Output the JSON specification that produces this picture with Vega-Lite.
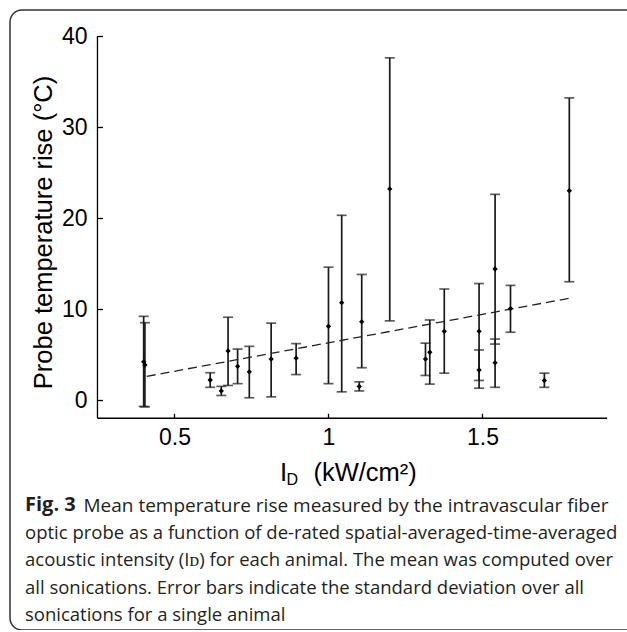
{
  "$schema": "https://vega.github.io/schema/vega-lite/v6.json",
  "width": 630,
  "height": 620,
  "autosize": {"type": "none"},
  "padding": {"left": 10, "top": 10, "right": 0, "bottom": 0},
  "background": "white",
  "config": {
    "view": {"stroke": "#333333", "strokeWidth": 1.5, "cornerRadius": 12},
    "font": "Liberation Sans"
  },
  "title": {
    "text": "Fig. 3",
    "subtitle": [
      "optic probe as a function of de-rated spatial-averaged-time-averaged",
      "acoustic intensity (I\u1d05) for each animal. The mean was computed over",
      "all sonications. Error bars indicate the standard deviation over all",
      "sonications for a single animal"
    ],
    "orient": "bottom",
    "anchor": "start",
    "frame": "group",
    "baseline": "top",
    "offset": -135,
    "dx": 15,
    "font": "Open Sans",
    "fontSize": 20,
    "fontWeight": "bold",
    "color": "#231f20",
    "subtitleFont": "Open Sans",
    "subtitleFontSize": 18.5,
    "subtitleFontWeight": "normal",
    "subtitleColor": "#231f20",
    "subtitleLineHeight": 27.5,
    "subtitlePadding": 8.7
  },
  "datasets": {
    "animals": [
      {"x": 0.400, "mean": 4.2, "lo": -0.7, "hi": 9.2},
      {"x": 0.404, "mean": 3.85, "lo": -0.75, "hi": 8.5},
      {"x": 0.616, "mean": 2.2, "lo": 1.4, "hi": 3.0},
      {"x": 0.652, "mean": 1.0, "lo": 0.5, "hi": 1.5},
      {"x": 0.674, "mean": 5.4, "lo": 1.6, "hi": 9.1},
      {"x": 0.705, "mean": 3.7, "lo": 1.8, "hi": 5.6},
      {"x": 0.743, "mean": 3.1, "lo": 0.25, "hi": 5.9},
      {"x": 0.814, "mean": 4.5, "lo": 0.35, "hi": 8.45},
      {"x": 0.895, "mean": 4.6, "lo": 2.8, "hi": 6.2},
      {"x": 1.0, "mean": 8.1, "lo": 1.8, "hi": 14.6},
      {"x": 1.043, "mean": 10.7, "lo": 0.9, "hi": 20.3},
      {"x": 1.108, "mean": 8.6, "lo": 3.55, "hi": 13.8},
      {"x": 1.100, "mean": 1.5, "lo": 1.0, "hi": 2.0},
      {"x": 1.199, "mean": 23.2, "lo": 8.7, "hi": 37.6},
      {"x": 1.315, "mean": 4.5, "lo": 2.7, "hi": 6.25},
      {"x": 1.329, "mean": 5.25, "lo": 1.75, "hi": 8.8},
      {"x": 1.376, "mean": 7.55, "lo": 2.95, "hi": 12.2},
      {"x": 1.489, "mean": 7.55, "lo": 2.15, "hi": 12.8},
      {"x": 1.489, "mean": 3.3, "lo": 1.3, "hi": 5.5},
      {"x": 1.541, "mean": 14.4, "lo": 6.15, "hi": 22.6},
      {"x": 1.541, "mean": 4.1, "lo": 1.4, "hi": 6.7},
      {"x": 1.591, "mean": 10.05, "lo": 7.45, "hi": 12.6},
      {"x": 1.701, "mean": 2.15, "lo": 1.4, "hi": 2.95},
      {"x": 1.782, "mean": 23.0, "lo": 13.0, "hi": 33.2}
    ],
    "fit": [
      {"x": 0.41, "y": 2.6},
      {"x": 1.785, "y": 11.2}
    ],
    "axislines": [
      {"x": 0.25, "x2": 0.25, "y": -2, "y2": 40},
      {"x": 0.25, "x2": 1.905, "y": -2, "y2": -2}
    ]
  },
  "layer": [
    {
      "data": {"name": "axislines"},
      "mark": {"type": "rule", "color": "black", "strokeWidth": 1.3},
      "encoding": {
        "x": {"field": "x", "type": "quantitative", "scale": {"domain": [-0.034, 2.0115], "nice": false, "zero": false}, "axis": null},
        "x2": {"field": "x2"},
        "y": {
          "field": "y", "type": "quantitative",
          "scale": {"domain": [-25.27, 42.86], "nice": false, "zero": false},
          "axis": {
            "orient": "left", "values": [0, 10, 20, 30, 40],
            "offset": -87.47, "domain": false, "grid": false, "zindex": 1,
            "tickSize": -5, "tickColor": "black", "tickWidth": 1.3,
            "labelFont": "Liberation Sans", "labelFontSize": 23, "labelColor": "black",
            "labelPadding": 15.5, "labelFlush": false, "labelOverlap": false,
            "title": "Probe temperature rise (\u00b0C)",
            "titleFont": "Liberation Sans", "titleFontSize": 25.5, "titleFontWeight": "normal", "titleColor": "black",
            "titleX": -53.5, "titleY": 222, "titleAngle": 270, "titleAlign": "center", "titleBaseline": "middle"
          }
        },
        "y2": {"field": "y2"}
      }
    },
    {
      "data": {"name": "animals"},
      "mark": {"type": "rule", "color": "#1a1a1a", "strokeWidth": 1.7},
      "encoding": {
        "x": {
          "field": "x", "type": "quantitative",
          "axis": {
            "orient": "bottom", "values": [0.5, 1, 1.5], "format": "~g",
            "offset": -211.77, "domain": false, "grid": false, "zindex": 1,
            "tickSize": -5, "tickColor": "black", "tickWidth": 1.3,
            "labelFont": "Liberation Sans", "labelFontSize": 23, "labelColor": "black",
            "labelBaseline": "alphabetic", "labelPadding": 30.8, "labelFlush": false, "labelOverlap": false,
            "title": "I\u00a0\u00a0\u00a0\u2009(kW/cm\u00b2)",
            "titleFont": "Liberation Sans", "titleFontSize": 25.5, "titleFontWeight": "normal", "titleColor": "black",
            "titleX": 269.5, "titleY": 61.8, "titleAlign": "left", "titleBaseline": "alphabetic", "titleAngle": 0
          }
        },
        "y": {"field": "lo", "type": "quantitative", "axis": null},
        "y2": {"field": "hi"}
      }
    },
    {
      "data": {"name": "animals"},
      "mark": {"type": "tick", "orient": "horizontal", "color": "#1a1a1a", "size": 10, "thickness": 1.7},
      "encoding": {
        "x": {
          "field": "x", "type": "quantitative",
          "axis": {
            "orient": "bottom", "offset": -211.77, "domain": false, "ticks": false, "labels": false, "grid": false,
            "title": "Mean temperature rise measured by the intravascular fiber",
            "titleFont": "Open Sans", "titleFontSize": 19, "titleFontWeight": "normal", "titleColor": "#231f20",
            "titleX": 73, "titleY": 92.8, "titleAlign": "left", "titleBaseline": "alphabetic", "titleAngle": 0
          }
        },
        "y": {"field": "hi", "type": "quantitative", "axis": null}
      }
    },
    {
      "data": {"name": "animals"},
      "mark": {"type": "tick", "orient": "horizontal", "color": "#1a1a1a", "size": 10, "thickness": 1.7},
      "encoding": {
        "x": {"field": "x", "type": "quantitative", "axis": null},
        "y": {"field": "lo", "type": "quantitative", "axis": null}
      }
    },
    {
      "data": {"name": "fit"},
      "mark": {"type": "line", "color": "#222222", "strokeWidth": 1.3, "strokeDash": [9, 5]},
      "encoding": {
        "x": {"field": "x", "type": "quantitative", "axis": null},
        "y": {"field": "y", "type": "quantitative", "axis": null}
      }
    },
    {
      "data": {"name": "animals"},
      "mark": {"type": "point", "shape": "diamond", "filled": true, "color": "black", "size": 28, "opacity": 1},
      "encoding": {
        "x": {
          "field": "x", "type": "quantitative",
          "axis": {
            "orient": "bottom", "offset": -211.77, "domain": false, "ticks": false, "labels": false, "grid": false,
            "title": "D", "titleFont": "Liberation Sans", "titleFontSize": 16, "titleFontWeight": "normal", "titleColor": "black",
            "titleX": 276, "titleY": 66, "titleAlign": "left", "titleBaseline": "alphabetic", "titleAngle": 0
          }
        },
        "y": {"field": "mean", "type": "quantitative", "axis": null}
      }
    }
  ],
  "resolve": {"axis": {"x": "independent", "y": "independent"}}
}
